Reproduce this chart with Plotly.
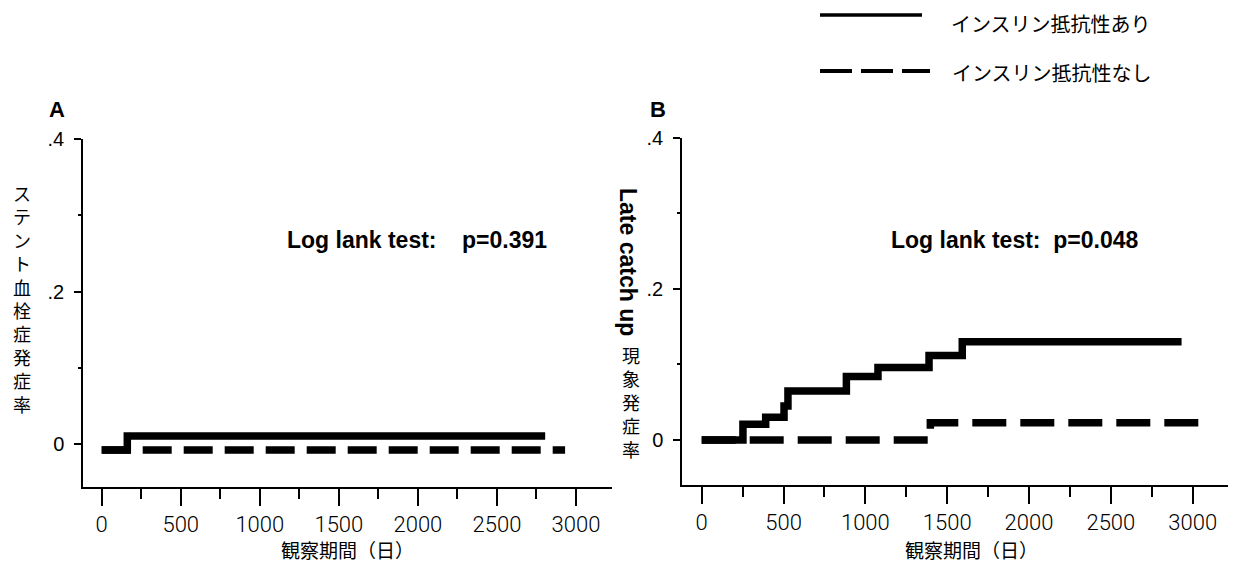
import plotly.graph_objects as go

# ---------------- data ----------------
series_names = ["インスリン抵抗性あり", "インスリン抵抗性なし"]

# Panel A: stent thrombosis incidence
a_days_ir = [0, 162, 2805]
a_rate_ir = [-0.008, 0.0105, 0.0105]
a_days_nir = [0, 2931]
a_rate_nir = [-0.008, -0.008]

# Panel B: late catch-up incidence
b_days_ir = [0, 252, 391, 503, 527, 884, 1077, 1389, 1592, 2932]
b_rate_ir = [0, 0.021, 0.030, 0.045, 0.065, 0.084, 0.096, 0.112, 0.130, 0.130]
b_days_nir = [0, 1397, 3055]
b_rate_nir = [0, 0.023, 0.023]

x_tickvals = [0, 500, 1000, 1500, 2000, 2500, 3000]
x_ticktext = ["0", "500", "1000", "1500", "2000", "2500", "3000"]
x_minorvals = [250, 750, 1250, 1750, 2250, 2750]
y_tickvals = [0, 0.2, 0.4]
y_ticktext = ["0", ".2", ".4"]
y_minorvals = [0.1, 0.3]

panel_labels = ["A", "B"]
test_texts = ["Log lank test:&nbsp;&nbsp;&nbsp;&nbsp;p=0.391", "Log lank test:&nbsp;&nbsp;p=0.048"]
x_title = "観察期間（日）"
ya_title = "ステント血栓症発症率"
yb_title_latin = "Late catch up"
yb_title_jp = "現象発症率"

# ---------------- layout helpers ----------------
# the page adds an 8px body margin, so the figure is drawn 16px smaller
OFF = 8
W, H = 1236 - 2 * OFF, 572 - 2 * OFF


def px(x):
    return min(max((x - OFF) / W, 0.0), 1.0)


def py(y):
    return min(max(1 - (y - OFF) / H, 0.0), 1.0)


JP = "Noto Sans CJK JP"
ARIAL = "Liberation Sans, Arial"
TICKF = "Roboto, Liberation Sans, Arial"

fig = go.Figure()

solid = dict(shape="hv", width=7.5, color="black")
dashA = dict(shape="hv", width=7.5, color="black", dash="29px,12px")
dashB = dict(shape="hv", width=7.5, color="black", dash="34px,14px")

fig.add_trace(go.Scatter(x=a_days_nir, y=a_rate_nir, mode="lines", line=dashA,
                         name=series_names[1], xaxis="x", yaxis="y"))
fig.add_trace(go.Scatter(x=a_days_ir, y=a_rate_ir, mode="lines", line=solid,
                         name=series_names[0], xaxis="x", yaxis="y"))
fig.add_trace(go.Scatter(x=b_days_nir, y=b_rate_nir, mode="lines", line=dashB,
                         name=series_names[1], xaxis="x2", yaxis="y2"))
fig.add_trace(go.Scatter(x=b_days_ir, y=b_rate_ir, mode="lines", line=solid,
                         name=series_names[0], xaxis="x2", yaxis="y2"))

xcommon = dict(
    showgrid=False, zeroline=False, showline=True, linecolor="black", linewidth=1.5,
    ticks="outside", ticklen=17, tickwidth=1.5, tickcolor="black",
    tickmode="array", tickvals=x_tickvals, ticktext=x_ticktext,
    tickfont=dict(family=TICKF, size=22, color="black", weight=300),
    automargin=False,
    minor=dict(tickmode="array", tickvals=x_minorvals, ticks="outside",
               ticklen=10, tickwidth=1.5, tickcolor="black", showgrid=False),
)
ycommon = dict(
    showgrid=False, zeroline=False, showline=True, linecolor="black", linewidth=1.5,
    ticks="outside", ticklen=7, tickwidth=1.5, tickcolor="black",
    tickmode="array", tickvals=y_tickvals, ticktext=y_ticktext,
    tickfont=dict(family=ARIAL, size=20, color="black"),
    ticklabelstandoff=6, automargin=False,
    minor=dict(tickmode="array", tickvals=y_minorvals, ticks="outside",
               ticklen=3, tickwidth=1.5, tickcolor="black", showgrid=False),
)

# x-scale: A 0 -> 101.7px, 3000 -> 576px ; B 0 -> 701.7px, 3000 -> 1192.7px
a_k = (576.0 - 101.7) / 3000
b_k = (1192.7 - 701.7) / 3000
b_right = min(1236, OFF + W)
fig.update_layout(
    width=W, height=H,
    margin=dict(l=0, r=0, t=0, b=0, autoexpand=False),
    paper_bgcolor="white", plot_bgcolor="white",
    showlegend=False, hovermode=False,
    xaxis=dict(xcommon, domain=[px(83), px(612)],
               range=[(83 - 101.7) / a_k, (612 - 101.7) / a_k], anchor="y"),
    yaxis=dict(ycommon, domain=[py(487), py(139)], range=[-0.0564, 0.4], anchor="x"),
    xaxis2=dict(xcommon, domain=[px(682), px(b_right)],
                range=[(682 - 701.7) / b_k, (b_right - 701.7) / b_k], anchor="y2"),
    yaxis2=dict(ycommon, domain=[py(485), py(137.7)], range=[-0.0595, 0.4], anchor="x2"),
)

ann = []
# panel labels
for lab, x in zip(panel_labels, [57, 658]):
    ann.append(dict(text="<b>%s</b>" % lab, x=px(x), y=py(110), xref="paper", yref="paper",
                    showarrow=False, font=dict(family=ARIAL, size=22, color="black"),
                    xanchor="center", yanchor="middle"))
# log-rank texts
for t, x in zip(test_texts, [417, 1015]):
    ann.append(dict(text="<b>%s</b>" % t, x=px(x), y=py(240), xref="paper", yref="paper",
                    showarrow=False, font=dict(family=ARIAL, size=23, color="black"),
                    xanchor="center", yanchor="middle"))
# x titles (kept inside the figure's bottom edge)
for x in [348, 972]:
    ann.append(dict(text=x_title, x=px(x), y=py(OFF + H), xref="paper", yref="paper",
                    showarrow=False, font=dict(family=JP, size=19, color="black"),
                    borderpad=0, xanchor="center", yanchor="bottom"))
# y title A (vertical writing, one character per line)
ann.append(dict(text="<br>".join(ya_title), x=px(22), y=py(298), xref="paper", yref="paper",
                showarrow=False, font=dict(family=JP, size=18, color="black"),
                borderpad=0, xanchor="center", yanchor="middle"))
# y title B
ann.append(dict(text="<b>%s</b>" % yb_title_latin, x=px(628), y=py(262), xref="paper", yref="paper",
                showarrow=False, textangle=90, font=dict(family=ARIAL, size=23, color="black"),
                xanchor="center", yanchor="middle"))
ann.append(dict(text="<br>".join(yb_title_jp), x=px(631), y=py(402), xref="paper", yref="paper",
                showarrow=False, font=dict(family=JP, size=18, color="black"),
                borderpad=0, xanchor="center", yanchor="middle"))
# legend texts
ann.append(dict(text=series_names[0], x=px(950), y=py(OFF), xref="paper", yref="paper",
                showarrow=False, font=dict(family=JP, size=20, color="black"),
                borderpad=0, xanchor="left", yanchor="top"))
ann.append(dict(text=series_names[1], x=px(950), y=py(73), xref="paper", yref="paper",
                showarrow=False, font=dict(family=JP, size=20, color="black"),
                xanchor="left", yanchor="middle"))
fig.update_layout(annotations=ann)

# legend samples
fig.add_shape(type="line", xref="paper", yref="paper", x0=px(820), x1=px(922), y0=py(15), y1=py(15),
              line=dict(color="black", width=3.5))
fig.add_shape(type="line", xref="paper", yref="paper", x0=px(820), x1=px(930), y0=py(71), y1=py(71),
              line=dict(color="black", width=4, dash="32px,9px"))

fig.write_html("out.html")
